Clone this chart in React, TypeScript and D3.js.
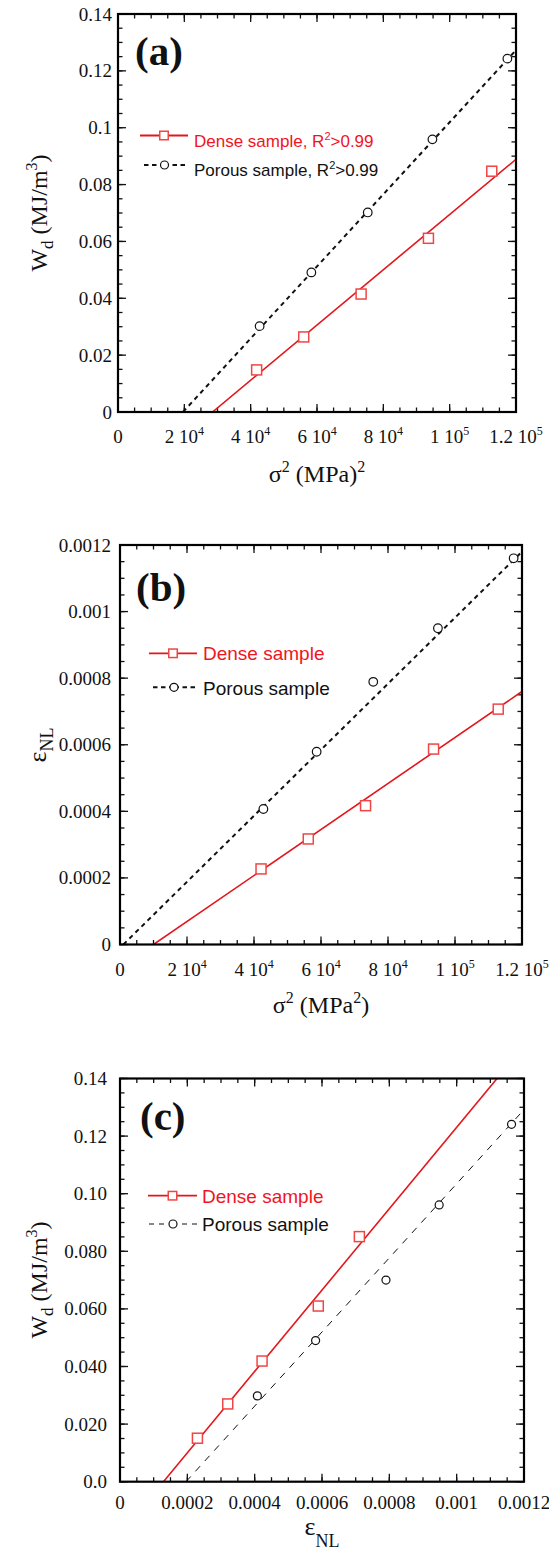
import React from "react";
import * as d3 from "d3";

// ---------- DATA ----------
// Panel (a): Wd vs sigma^2
const aSigma2Dense = [41800, 56000, 73300, 93600, 112700];
const aWdDense = [0.0148, 0.0264, 0.0415, 0.0611, 0.0847];
const aSigma2Porous = [42700, 58300, 75300, 94800, 117400];
const aWdPorous = [0.0302, 0.0491, 0.0702, 0.0959, 0.1243];
const aFitDenseX = [28500, 120000];
const aFitDenseY = [0, 0.0889];
const aFitPorousX = [19600, 120000];
const aFitPorousY = [0, 0.1273];

// Panel (b): eps_NL vs sigma^2
const bSigma2Dense = [42100, 56200, 73300, 93600, 112900];
const bEpsDense = [0.000227, 0.000317, 0.000417, 0.000587, 0.000707];
const bSigma2Porous = [42800, 58700, 75600, 94900, 117500];
const bEpsPorous = [0.000407, 0.000579, 0.000789, 0.00095, 0.00116];
const bFitDenseX = [10000, 120000];
const bFitDenseY = [0, 0.00076];
const bFitPorousX = [1000, 120000];
const bFitPorousY = [0, 0.00118];

// Panel (c): Wd vs eps_NL
const cEpsDense = [0.00023, 0.00032, 0.000422, 0.000589, 0.000711];
const cWdDense = [0.0151, 0.027, 0.0419, 0.061, 0.0851];
const cEpsPorous = [0.000408, 0.000581, 0.00079, 0.000948, 0.001163];
const cWdPorous = [0.0298, 0.049, 0.07, 0.0961, 0.1241];
const cFitDenseX = [0.000129, 0.00112];
const cFitDenseY = [0, 0.14];
const cFitPorousX = [0.000196, 0.0012];
const cFitPorousY = [0, 0.1292];

// Ticks
const sigmaTicks = [0, 20000, 40000, 60000, 80000, 100000, 120000];
const sigmaTickLabels = ["0", "2 10^4", "4 10^4", "6 10^4", "8 10^4", "1 10^5", "1.2 10^5"];
const aYTicks = [0, 0.02, 0.04, 0.06, 0.08, 0.1, 0.12, 0.14];
const aYTickLabels = ["0", "0.02", "0.04", "0.06", "0.08", "0.1", "0.12", "0.14"];
const bYTicks = [0, 0.0002, 0.0004, 0.0006, 0.0008, 0.001, 0.0012];
const bYTickLabels = ["0", "0.0002", "0.0004", "0.0006", "0.0008", "0.001", "0.0012"];
const cXTicks = [0, 0.0002, 0.0004, 0.0006, 0.0008, 0.001, 0.0012];
const cXTickLabels = ["0", "0.0002", "0.0004", "0.0006", "0.0008", "0.001", "0.0012"];
const cYTicks = [0, 0.02, 0.04, 0.06, 0.08, 0.1, 0.12, 0.14];
const cYTickLabels = ["0.0", "0.020", "0.040", "0.060", "0.080", "0.10", "0.12", "0.14"];

const SERIF = "'Liberation Serif', 'Times New Roman', Times, serif";
const SANS = "'Liberation Sans', Arial, Helvetica, sans-serif";
const RED_LINE = "#e3161b";
const RED_TEXT = "#f0141e";
const RED_MARK = "#f04545";

function Label({ text, x, y, anchor, size, supSize, supDy }: any) {
  const parts = text.split("^");
  return (
    <text x={x} y={y} textAnchor={anchor} fontFamily={SERIF} fontSize={size} fill="#111">
      <tspan>{parts[0]}</tspan>
      {parts[1] ? (
        <tspan dy={-supDy} fontSize={supSize}>
          {parts[1]}
        </tspan>
      ) : null}
    </text>
  );
}

function Square({ x, y, s }: any) {
  return <rect x={x - s / 2} y={y - s / 2} width={s} height={s} fill="#fff" stroke={RED_MARK} strokeWidth={1.5} />;
}
function Circle({ x, y, r }: any) {
  return <circle cx={x} cy={y} r={r} fill="#fff" stroke="#111" strokeWidth={1.2} />;
}

function Panel(p: any) {
  const { id, left, right, top, bottom, xMax, yMax, xTicks, xTickLabels, xMinor, yTicks, yTickLabels, yMinor } = p;
  const x = d3.scaleLinear().domain([0, xMax]).range([left, right]);
  const y = d3.scaleLinear().domain([0, yMax]).range([bottom, top]);
  const xMinors = d3.range(0, xMax + xMinor / 2, xMinor);
  const yMinors = d3.range(0, yMax + yMinor / 2, yMinor);
  const line = d3
    .line<number[]>()
    .x((d) => x(d[0]))
    .y((d) => y(d[1]));
  const fit = (xs: number[], ys: number[]) => line(xs.map((v, i) => [v, ys[i]])) || "";
  const MAJ = 8;
  const MIN = 4.5;
  return (
    <g>
      <defs>
        <clipPath id={"clip" + id}>
          <rect x={left} y={top} width={right - left} height={bottom - top} />
        </clipPath>
      </defs>
      <g stroke="#111" strokeWidth={1.3}>
        {xMinors.map((v: number, i: number) => (
          <g key={"xm" + i}>
            <line x1={x(v)} x2={x(v)} y1={bottom} y2={bottom - MIN} />
            <line x1={x(v)} x2={x(v)} y1={top} y2={top + MIN} />
          </g>
        ))}
        {xTicks.map((v: number, i: number) => (
          <g key={"xM" + i}>
            <line x1={x(v)} x2={x(v)} y1={bottom} y2={bottom - MAJ} />
            <line x1={x(v)} x2={x(v)} y1={top} y2={top + MAJ} />
          </g>
        ))}
        {yMinors.map((v: number, i: number) => (
          <g key={"ym" + i}>
            <line x1={left} x2={left + MIN} y1={y(v)} y2={y(v)} />
            <line x1={right} x2={right - MIN} y1={y(v)} y2={y(v)} />
          </g>
        ))}
        {yTicks.map((v: number, i: number) => (
          <g key={"yM" + i}>
            <line x1={left} x2={left + MAJ} y1={y(v)} y2={y(v)} />
            <line x1={right} x2={right - MAJ} y1={y(v)} y2={y(v)} />
          </g>
        ))}
      </g>
      {xTicks.map((v: number, i: number) => (
        <Label key={"xl" + i} text={xTickLabels[i]} x={x(v)} y={bottom + p.xLabelDy} anchor="middle" size={19} supSize={12} supDy={8} />
      ))}
      {yTicks.map((v: number, i: number) => (
        <Label key={"yl" + i} text={yTickLabels[i]} x={left - p.yLabelGap} y={y(v) + 6.5} anchor="end" size={19} supSize={12} supDy={8} />
      ))}
      <g clipPath={`url(#clip${id})`} fill="none">
        <path d={fit(p.fitDenseX, p.fitDenseY)} stroke={RED_LINE} strokeWidth={1.6} />
        <path d={fit(p.fitPorousX, p.fitPorousY)} stroke="#111" strokeWidth={p.porousWidth} strokeDasharray={p.porousDash} />
      </g>
      {p.denseX.map((v: number, i: number) => (
        <Square key={"s" + i} x={x(v)} y={y(p.denseY[i])} s={10} />
      ))}
      {p.porousX.map((v: number, i: number) => (
        <Circle key={"c" + i} x={x(v)} y={y(p.porousY[i])} r={p.circleR} />
      ))}
      <rect x={left} y={top} width={right - left} height={bottom - top} fill="none" stroke="#000" strokeWidth={2.2} />
    </g>
  );
}

function LegendRow({ x1, x2, y, dense, dash, width }: any) {
  const mx = (x1 + x2) / 2;
  return (
    <g>
      {dense ? (
        <>
          <line x1={x1} x2={x2} y1={y} y2={y} stroke={RED_LINE} strokeWidth={1.8} />
          <Square x={mx} y={y} s={8.5} />
        </>
      ) : (
        <>
          <line x1={x1} x2={mx - 4} y1={y} y2={y} stroke="#111" strokeWidth={width} strokeDasharray={dash} />
          <line x1={x2} x2={mx + 4} y1={y} y2={y} stroke="#111" strokeWidth={width} strokeDasharray={dash} />
          <Circle x={mx} y={y} r={4} />
        </>
      )}
    </g>
  );
}

export default function App() {
  return (
    <svg
      width={549}
      height={1554}
      viewBox="0 0 549 1554"
      style={{ position: "absolute", left: 0, top: 0, background: "#fff" }}
    >
      <rect x={0} y={0} width={549} height={1554} fill="#fff" />
      {/* ---------------- Panel (a) ---------------- */}
      <Panel
        id="a"
        left={118}
        right={516}
        top={14}
        bottom={412}
        xMax={120000}
        yMax={0.14}
        xTicks={sigmaTicks}
        xTickLabels={sigmaTickLabels}
        xMinor={5000}
        yTicks={aYTicks}
        yTickLabels={aYTickLabels}
        yMinor={0.005}
        xLabelDy={31}
        yLabelGap={6}
        denseX={aSigma2Dense}
        denseY={aWdDense}
        porousX={aSigma2Porous}
        porousY={aWdPorous}
        fitDenseX={aFitDenseX}
        fitDenseY={aFitDenseY}
        fitPorousX={aFitPorousX}
        fitPorousY={aFitPorousY}
        porousWidth={2}
        porousDash="4.5,4"
        circleR={4.3}
      />
      <text x={135} y={65} fontFamily={SERIF} fontWeight="bold" fontSize={41} fill="#111">(a)</text>
      <LegendRow x1={140} x2={188} y={135.5} dense />
      <text x={194} y={147} fontFamily={SANS} fontSize={17} fill={RED_TEXT}>
        Dense sample, R<tspan dy={-7} fontSize={11}>2</tspan><tspan dy={7}>&gt;0.99</tspan>
      </text>
      <LegendRow x1={144} x2={185} y={165} dash="4.5,3.5" width={2} />
      <text x={194} y={176} fontFamily={SANS} fontSize={17} fill="#111">
        Porous sample, R<tspan dy={-7} fontSize={11}>2</tspan><tspan dy={7}>&gt;0.99</tspan>
      </text>
      <text x={317} y={482} textAnchor="middle" fontFamily={SERIF} fontSize={24} fill="#111">
        σ<tspan dy={-10} fontSize={16}>2</tspan><tspan dy={10}> (MPa)</tspan><tspan dy={-10} fontSize={16}>2</tspan>
      </text>
      <text transform="translate(47,213) rotate(-90)" textAnchor="middle" fontFamily={SERIF} fontSize={24} fill="#111">
        W<tspan dy={6} fontSize={17}>d</tspan><tspan dy={-6}> (MJ/m</tspan><tspan dy={-10} fontSize={16}>3</tspan><tspan dy={10}>)</tspan>
      </text>

      {/* ---------------- Panel (b) ---------------- */}
      <Panel
        id="b"
        left={120}
        right={522}
        top={545}
        bottom={944.5}
        xMax={120000}
        yMax={0.0012}
        xTicks={sigmaTicks}
        xTickLabels={sigmaTickLabels}
        xMinor={5000}
        yTicks={bYTicks}
        yTickLabels={bYTickLabels}
        yMinor={0.00005}
        xLabelDy={31}
        yLabelGap={9}
        denseX={bSigma2Dense}
        denseY={bEpsDense}
        porousX={bSigma2Porous}
        porousY={bEpsPorous}
        fitDenseX={bFitDenseX}
        fitDenseY={bFitDenseY}
        fitPorousX={bFitPorousX}
        fitPorousY={bFitPorousY}
        porousWidth={2}
        porousDash="4.5,4"
        circleR={4.3}
      />
      <text x={136} y={601} fontFamily={SERIF} fontWeight="bold" fontSize={41} fill="#111">(b)</text>
      <LegendRow x1={149} x2={197} y={653.3} dense />
      <text x={203} y={660} fontFamily={SANS} fontSize={19} fill={RED_TEXT}>Dense sample</text>
      <LegendRow x1={153} x2={195} y={687.3} dash="4.5,3.5" width={2} />
      <text x={203} y={694.5} fontFamily={SANS} fontSize={19} fill="#111">Porous sample</text>
      <text x={321} y={1013} textAnchor="middle" fontFamily={SERIF} fontSize={24} fill="#111">
        σ<tspan dy={-10} fontSize={16}>2</tspan><tspan dy={10}> (MPa</tspan><tspan dy={-10} fontSize={16}>2</tspan><tspan dy={10}>)</tspan>
      </text>
      <text transform="translate(46,745) rotate(-90)" textAnchor="middle" fontFamily={SERIF} fontSize={26} fill="#111">
        ε<tspan dy={7} fontSize={18}>NL</tspan>
      </text>

      {/* ---------------- Panel (c) ---------------- */}
      <Panel
        id="c"
        left={120}
        right={524}
        top={1078.5}
        bottom={1481.7}
        xMax={0.0012}
        yMax={0.14}
        xTicks={cXTicks}
        xTickLabels={cXTickLabels}
        xMinor={0.00005}
        yTicks={cYTicks}
        yTickLabels={cYTickLabels}
        yMinor={0.005}
        xLabelDy={27.5}
        yLabelGap={13}
        denseX={cEpsDense}
        denseY={cWdDense}
        porousX={cEpsPorous}
        porousY={cWdPorous}
        fitDenseX={cFitDenseX}
        fitDenseY={cFitDenseY}
        fitPorousX={cFitPorousX}
        fitPorousY={cFitPorousY}
        porousWidth={1}
        porousDash="7,7"
        circleR={4}
      />
      <text x={140} y={1130} fontFamily={SERIF} fontWeight="bold" fontSize={41} fill="#111">(c)</text>
      <LegendRow x1={148} x2={197} y={1195.7} dense />
      <text x={202} y={1202.5} fontFamily={SANS} fontSize={19} fill={RED_TEXT}>Dense sample</text>
      <LegendRow x1={149} x2={197} y={1224} dash="5,5" width={1} />
      <text x={202} y={1231} fontFamily={SANS} fontSize={19} fill="#111">Porous sample</text>
      <text x={322} y={1535} textAnchor="middle" fontFamily={SERIF} fontSize={26} fill="#111">
        ε<tspan dy={12} fontSize={18}>NL</tspan>
      </text>
      <text transform="translate(47,1280) rotate(-90)" textAnchor="middle" fontFamily={SERIF} fontSize={24} fill="#111">
        W<tspan dy={6} fontSize={17}>d</tspan><tspan dy={-6}> (MJ/m</tspan><tspan dy={-10} fontSize={16}>3</tspan><tspan dy={10}>)</tspan>
      </text>
    </svg>
  );
}
